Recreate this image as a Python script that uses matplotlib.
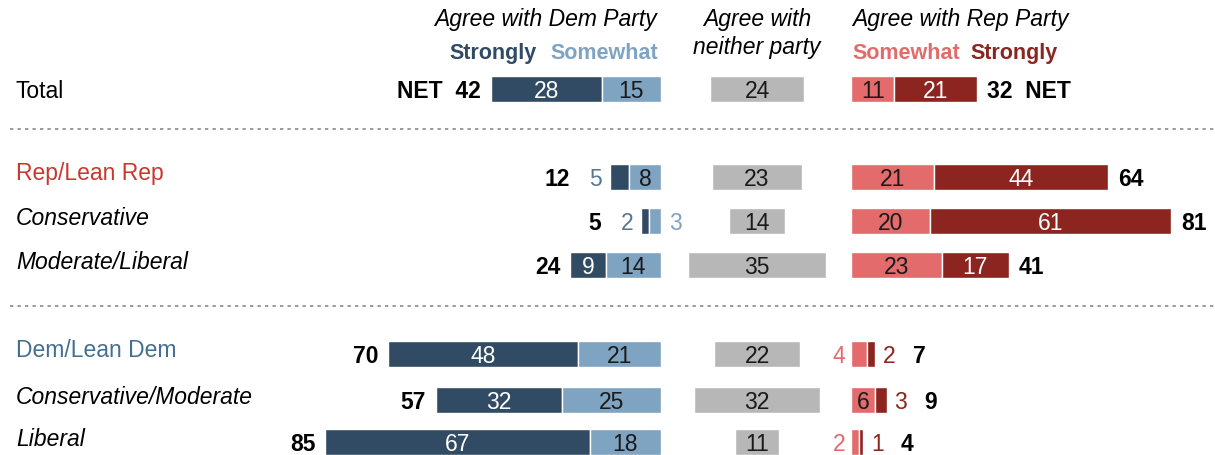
import matplotlib.pyplot as plt

# chart values
groups = ["Total", "Rep/Lean Rep", "Conservative", "Moderate/Liberal",
          "Dem/Lean Dem", "Conservative/Moderate", "Liberal"]
dem_strong = [28, 5, 2, 9, 48, 32, 67]
dem_some = [15, 8, 3, 14, 21, 25, 18]
dem_net = [42, 12, 5, 24, 70, 57, 85]
neither = [24, 23, 14, 35, 22, 32, 11]
rep_some = [11, 21, 20, 23, 4, 6, 2]
rep_strong = [21, 44, 61, 17, 2, 3, 1]
rep_net = [32, 64, 81, 41, 7, 9, 4]

# layout (pixel space)
row_y = [90, 178, 222, 266, 355, 401, 443]
K = 3.95           # px per percentage point
DEM_END = 661
NEI_MID = 757
REP_START = 851
BAR_H = 26
DY = 1.5           # nudge text down a bit so it sits centred like the original

C_DS = "#304b63"
C_DW = "#7fa4c2"
C_NE = "#b7b7b7"
C_RW = "#e36b6b"
C_RS = "#8c2520"
FONT = ["Liberation Sans Narrow", "Liberation Sans", "DejaVu Sans"]
FS = 16.5

plt.rcParams["font.family"] = FONT

fig = plt.figure(figsize=(12.15, 4.56), dpi=100)
ax = fig.add_axes([0, 0, 1, 1])
ax.set_xlim(0, 1215)
ax.set_ylim(456, 0)
ax.axis("off")


def seg(x0, w, y, color):
    ax.barh(y, w, left=x0, height=BAR_H, color=color, edgecolor="white", linewidth=1)


def txt(x, y, s, **kw):
    kw.setdefault("fontsize", FS)
    kw.setdefault("va", "center")
    ax.text(x, y + DY, s, **kw)


for i, g in enumerate(groups):
    y = row_y[i]
    # category labels
    if i == 0:
        txt(16, y, g, ha="left")
    elif i == 1:
        txt(16, y - 6, g, ha="left", color="#c8382f")
    elif i == 4:
        txt(16, y - 6, g, ha="left", color="#456f91")
    else:
        txt(16, y - 5, g, ha="left", style="italic")

    # Dem side
    ws = dem_strong[i] * K
    ww = dem_some[i] * K
    x_s = DEM_END - ww - ws
    seg(x_s, ws, y, C_DS)
    seg(DEM_END - ww, ww, y, C_DW)
    left_edge = x_s
    if ws > 25:
        txt(x_s + ws / 2, y, str(dem_strong[i]), color="white", ha="center")
    else:
        txt(x_s - 8, y, str(dem_strong[i]), color="#5a7890", ha="right")
        left_edge = x_s - 30
    if ww > 20:
        txt(DEM_END - ww / 2, y, str(dem_some[i]), color="#1a1a1a", ha="center")
    else:
        txt(DEM_END + 8, y, str(dem_some[i]), color=C_DW, ha="left")
    net_lbl = ("NET  " if i == 0 else "") + str(dem_net[i])
    txt(left_edge - 10, y, net_lbl, fontweight="bold", ha="right")

    # neither
    wn = neither[i] * K
    seg(NEI_MID - wn / 2, wn, y, C_NE)
    txt(NEI_MID, y, str(neither[i]), color="#1a1a1a", ha="center")

    # Rep side
    wrw = rep_some[i] * K
    wrs = rep_strong[i] * K
    seg(REP_START, wrw, y, C_RW)
    seg(REP_START + wrw, wrs, y, C_RS)
    right_edge = REP_START + wrw + wrs
    if wrw > 20:
        txt(REP_START + wrw / 2, y, str(rep_some[i]), color="#1a1a1a", ha="center")
    else:
        txt(REP_START - 6, y, str(rep_some[i]), color=C_RW, ha="right")
    if wrs > 20:
        txt(REP_START + wrw + wrs / 2, y, str(rep_strong[i]), color="white", ha="center")
    else:
        txt(right_edge + 8, y, str(rep_strong[i]), color=C_RS, ha="left")
        right_edge += 28
    net_lbl = str(rep_net[i]) + ("  NET" if i == 0 else "")
    txt(right_edge + 10, y, net_lbl, fontweight="bold", ha="left")

# separators
for ys in (130, 307):
    ax.plot([10, 1215], [ys, ys], color="#8a8a8a", linestyle=(0, (2, 2.5)), linewidth=1.2)

# column headers
HFS = 15.5
txt(657, 18, "Agree with Dem Party", style="italic", ha="right")
txt(537, 52, "Strongly", fontsize=HFS, fontweight="bold", color=C_DS, ha="right")
txt(658, 52, "Somewhat", fontsize=HFS, fontweight="bold", color=C_DW, ha="right")
txt(NEI_MID, 18, "Agree with", style="italic", ha="center")
txt(NEI_MID, 46, "neither party", style="italic", ha="center")
txt(852, 18, "Agree with Rep Party", style="italic", ha="left")
txt(852, 52, "Somewhat", fontsize=HFS, fontweight="bold", color=C_RW, ha="left")
txt(970, 52, "Strongly", fontsize=HFS, fontweight="bold", color=C_RS, ha="left")

fig.savefig("out.png", dpi=100)
